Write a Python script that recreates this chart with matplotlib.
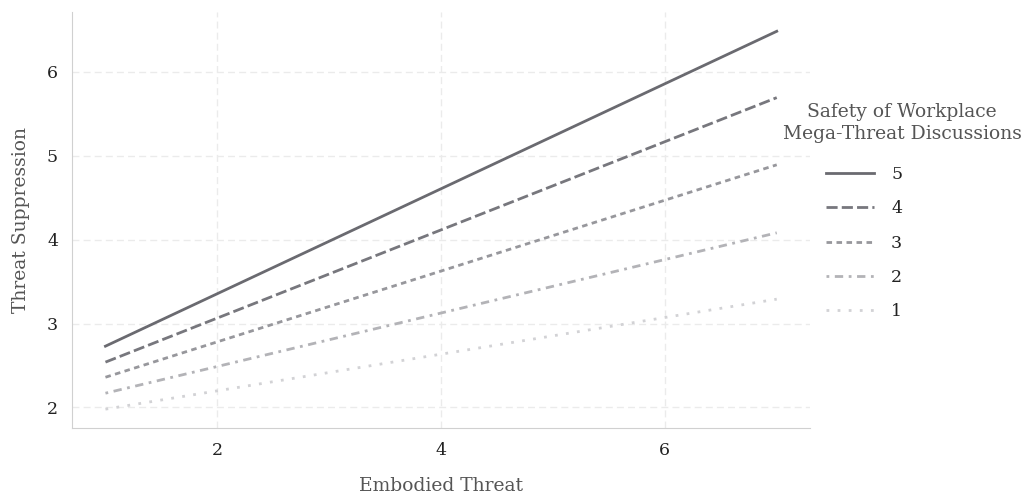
import numpy as np
import matplotlib
matplotlib.use("Agg")
import matplotlib.pyplot as plt

plt.rcParams["font.family"] = ["DejaVu Serif"]

# Embodied threat range and predicted threat suppression per safety level
x_vals = [1, 7]
levels = ["5", "4", "3", "2", "1"]
y_level5 = [2.73, 6.48]
y_level4 = [2.54, 5.69]
y_level3 = [2.36, 4.89]
y_level2 = [2.17, 4.08]
y_level1 = [1.98, 3.29]

series = [y_level5, y_level4, y_level3, y_level2, y_level1]
colors = ["#6a6a70", "#77777d", "#97979c", "#b3b3b7", "#d2d2d5"]
styles = ["-", (0, (4, 1.5)), (0, (2, 1.6)), (0, (1, 2, 3, 2)), (0, (1, 3))]

fig, ax = plt.subplots(figsize=(10.27, 4.96), dpi=100)
fig.subplots_adjust(left=0.07, right=0.789, top=0.975, bottom=0.137)

for lvl, ys, c, ls in zip(levels, series, colors, styles):
    ax.plot(x_vals, ys, linestyle=ls, color=c, linewidth=2, label=lvl)

ax.set_xticks([2, 4, 6])
ax.set_yticks([2, 3, 4, 5, 6])
ax.grid(True, linestyle=(0, (5, 3)), color="#ebebeb", linewidth=1)
ax.set_axisbelow(True)
ax.tick_params(length=0, labelsize=12.5, labelcolor="#222222", pad=10)

for s in ["top", "right"]:
    ax.spines[s].set_visible(False)
for s in ["left", "bottom"]:
    ax.spines[s].set_color("#d0d0d0")

ax.set_xlabel("Embodied Threat", fontsize=13.5, color="#555555", labelpad=13)
ax.set_ylabel("Threat Suppression", fontsize=13.5, color="#555555", labelpad=12)

# legend title drawn separately so the entries sit under its centre
fig.text(902 / 1027, 1 - 123 / 496, "Safety of Workplace\nMega-Threat Discussions",
         ha="center", va="center", fontsize=13.5, color="#555555",
         linespacing=1.3)

leg = ax.legend(loc="upper left", bbox_to_anchor=(826 / 1027, 1 - 166 / 496),
                bbox_transform=fig.transFigure, frameon=False,
                fontsize=12.5, handlelength=2.75, labelspacing=1.0,
                handletextpad=1.0, borderpad=0, borderaxespad=0)
for t in leg.get_texts():
    t.set_color("#222222")

fig.savefig("out.png", dpi=100)
